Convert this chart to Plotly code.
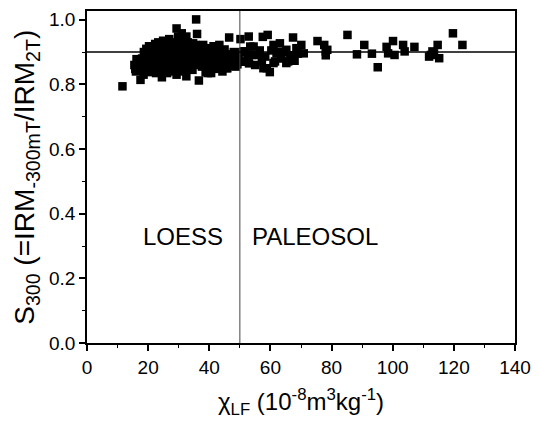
import plotly.graph_objects as go

# chi_LF (10^-8 m^3/kg) and S300 values
loess_x = [11.6, 15.5, 16.0, 16.4, 16.8, 17.2, 17.5, 18.0, 18.3, 18.5, 18.8, 19.0, 19.2, 19.5, 19.8,
           20.0, 20.2, 20.5, 20.6, 20.8, 21.0, 21.2, 21.5, 21.8, 22.0, 22.2, 22.5, 22.6, 22.8, 23.0,
           23.2, 23.5, 23.6, 23.8, 24.0, 24.2, 24.5, 24.6, 24.8, 25.0, 25.1, 25.3, 25.5, 25.7, 25.9,
           26.0, 26.2, 26.4, 26.6, 26.8, 27.0, 27.1, 27.3, 27.5, 27.7, 27.9, 28.0, 28.2, 28.4, 28.6,
           28.8, 29.0, 29.2, 29.3, 29.3, 29.5, 29.8, 29.9, 30.0, 30.3, 30.5, 30.7, 30.9, 31.1, 31.3,
           31.5, 31.7, 31.9, 32.1, 32.3, 32.5, 32.5, 32.7, 32.9, 33.1, 33.3, 33.6, 33.8, 34.0, 34.3,
           34.5, 34.7, 34.9, 35.0, 35.3, 35.5, 35.7, 36.0, 36.2, 36.4, 36.6, 36.8, 37.0, 37.3, 37.6,
           37.9, 38.2, 38.5, 38.8, 39.0, 39.3, 39.6, 39.9, 40.0, 40.2, 40.5, 40.6, 40.8, 41.1, 41.4,
           41.7, 42.0, 42.3, 42.6, 42.7, 42.9, 43.2, 43.3, 43.5, 43.8, 44.1, 44.3, 44.4, 44.7, 45.0,
           45.3, 45.6, 45.9, 46.0, 46.5, 46.8, 47.2, 47.6, 48.0, 48.4, 48.6, 48.8, 49.2, 49.6,
           18.6, 19.4, 20.3, 21.3, 21.6, 22.3, 22.9, 23.3, 23.9, 24.3, 24.9, 25.4, 25.8, 26.3, 26.9,
           27.4, 27.8, 28.3, 28.9, 29.6, 30.1, 30.6, 31.2, 31.8, 32.4, 33.0, 33.5, 34.2, 34.8, 35.4,
           36.5, 37.2, 38.0, 38.6, 39.5, 26.5, 23.7, 21.9, 20.9, 19.7, 17.8, 27.2, 29.1, 30.4, 31.4,
           32.8, 28.5, 25.6, 24.1, 22.7, 21.4, 19.1, 17.0, 16.2, 15.8, 31.0, 39.5, 42.7]
loess_s = [0.794, 0.860, 0.840, 0.866, 0.850, 0.870, 0.814, 0.880, 0.855, 0.830, 0.868, 0.890, 0.845, 0.875, 0.860,
           0.900, 0.838, 0.882, 0.865, 0.850, 0.895, 0.870, 0.910, 0.842, 0.880, 0.860, 0.900, 0.835, 0.872, 0.915,
           0.852, 0.888, 0.868, 0.840, 0.905, 0.878, 0.822, 0.920, 0.858, 0.895, 0.870, 0.845, 0.912, 0.882, 0.862,
           0.925, 0.835, 0.900, 0.875, 0.853, 0.918, 0.890, 0.866, 0.840, 0.905, 0.880, 0.930, 0.858, 0.895, 0.872,
           0.848, 0.915, 0.885, 0.973, 0.830, 0.862, 0.948, 0.900, 0.875, 0.925, 0.855, 0.890, 0.868, 0.910, 0.840,
           0.878, 0.935, 0.898, 0.862, 0.885, 0.948, 0.825, 0.912, 0.872, 0.850, 0.895, 0.920, 0.865, 0.882, 0.905,
           0.845, 0.927, 0.875, 0.890, 0.860, 0.910, 1.001, 0.956, 0.880, 0.898, 0.812, 0.868, 0.915, 0.885, 0.855,
           0.900, 0.875, 0.892, 0.838, 0.912, 0.870, 0.886, 0.850, 0.860, 0.905, 0.877, 0.835, 0.862, 0.895, 0.918,
           0.870, 0.848, 0.888, 0.902, 0.855, 0.865, 0.882, 0.922, 0.855, 0.900, 0.872, 0.840, 0.890, 0.860, 0.908,
           0.877, 0.850, 0.850, 0.893, 0.945, 0.870, 0.885, 0.858, 0.900, 0.875, 0.855, 0.892, 0.862, 0.880,
           0.900, 0.910, 0.918, 0.852, 0.888, 0.925, 0.893, 0.930, 0.900, 0.862, 0.935, 0.890, 0.850, 0.868, 0.940,
           0.905, 0.860, 0.912, 0.870, 0.925, 0.890, 0.938, 0.895, 0.855, 0.868, 0.930, 0.880, 0.858, 0.900, 0.922,
           0.870, 0.895, 0.922, 0.862, 0.900, 0.845, 0.875, 0.865, 0.880, 0.840, 0.862, 0.875, 0.845, 0.870, 0.918,
           0.900, 0.885, 0.900, 0.890, 0.885, 0.898, 0.872, 0.855, 0.878, 0.848, 0.958, 0.835, 0.917]

paleosol_x = [50.2, 50.8, 50.8, 51.3, 51.8, 51.8, 52.5, 52.9, 53.0, 53.4, 54.0, 54.5, 55.0, 56.1, 56.5,
              57.2, 57.5, 57.7, 58.3, 58.8, 59.1, 59.8, 60.3, 61.0, 61.0, 61.5, 62.0, 62.6, 63.1, 63.6,
              64.0, 65.2, 65.2, 65.8, 66.5, 67.4, 67.9, 68.5, 69.0, 70.1, 70.9, 75.4, 77.6, 78.1, 78.1,
              78.6, 85.2, 88.3, 90.7, 93.2, 95.1, 98.0, 98.5, 100.1, 100.6, 103.4, 103.9, 107.1, 111.9, 112.5,
              113.0, 113.5, 114.7, 115.2, 119.7, 122.8]
paleosol_s = [0.940, 0.870, 0.900, 0.902, 0.902, 0.871, 0.880, 0.948, 0.865, 0.917, 0.891, 0.917, 0.860, 0.891, 0.905,
              0.871, 0.947, 0.850, 0.886, 0.850, 0.953, 0.838, 0.905, 0.922, 0.866, 0.871, 0.896, 0.900, 0.927, 0.880,
              0.900, 0.907, 0.866, 0.871, 0.890, 0.945, 0.873, 0.912, 0.895, 0.922, 0.896, 0.934, 0.922, 0.902, 0.890,
              0.907, 0.953, 0.893, 0.922, 0.895, 0.853, 0.916, 0.896, 0.934, 0.891, 0.922, 0.902, 0.916, 0.886, 0.891,
              0.902, 0.896, 0.922, 0.881, 0.958, 0.922]

boundary_chi = 50
reference_s = 0.9
x_ticks = [0, 20, 40, 60, 80, 100, 120, 140]
y_ticks = [0.0, 0.2, 0.4, 0.6, 0.8, 1.0]

FONT = "Arial, Liberation Sans, sans-serif"

fig = go.Figure()
fig.add_trace(go.Scatter(
    x=loess_x + paleosol_x, y=loess_s + paleosol_s, mode="markers",
    marker=dict(symbol="square", size=8.5, color="black", line=dict(width=0)),
    showlegend=False, cliponaxis=False))

fig.add_shape(type="line", xref="x", yref="paper", x0=boundary_chi, x1=boundary_chi, y0=0, y1=1,
              line=dict(color="#444444", width=1))
fig.add_shape(type="line", xref="paper", yref="y", x0=0, x1=1, y0=reference_s, y1=reference_s,
              line=dict(color="black", width=1.5))

fig.add_annotation(x=31.5, y=0.33, xref="x", yref="y", text="LOESS", showarrow=False,
                   font=dict(family=FONT, size=24, color="black"))
fig.add_annotation(x=74.5, y=0.33, xref="x", yref="y", text="PALEOSOL", showarrow=False,
                   font=dict(family=FONT, size=24, color="black"))

fig.add_annotation(x=0.5, y=-0.177, xref="paper", yref="paper",
                   text="χ<sub>LF</sub> (10<sup>-8</sup>m<sup>3</sup>kg<sup>-1</sup>)",
                   showarrow=False, yanchor="middle", font=dict(family=FONT, size=24, color="black"))
fig.add_annotation(x=-0.143, y=0.5, xref="paper", yref="paper", textangle=-90,
                   text="S<sub>300</sub> (=IRM<sub>-300mT</sub>/IRM<sub>2T</sub>)",
                   showarrow=False, xanchor="center", font=dict(family=FONT, size=28, color="black"))

fig.update_layout(
    width=540, height=421, margin=dict(l=87, r=17, t=9, b=78),
    paper_bgcolor="white", plot_bgcolor="white",
    font=dict(family=FONT, color="black"),
    xaxis=dict(range=[0, 140], tickvals=x_ticks, ticks="outside", ticklen=6, tickwidth=1.5,
               tickcolor="black", showline=True, linecolor="black", linewidth=1.5, mirror=True,
               showgrid=False, zeroline=False, tickfont=dict(size=19, family=FONT),
               minor=dict(dtick=10, ticks="outside", ticklen=3, tickwidth=1.2, tickcolor="black")),
    yaxis=dict(range=[0, 1.027], tickvals=y_ticks, tickformat=".1f", ticks="outside", ticklen=6,
               tickwidth=1.5, tickcolor="black", showline=True, linecolor="black", linewidth=1.5,
               mirror=True, showgrid=False, zeroline=False, tickfont=dict(size=19, family=FONT),
               minor=dict(dtick=0.1, ticks="outside", ticklen=3, tickwidth=1.2, tickcolor="black")),
)

fig.write_html("out.html", config={"displayModeBar": False},
               post_script="document.body.style.margin='0';document.body.style.overflow='hidden';")
